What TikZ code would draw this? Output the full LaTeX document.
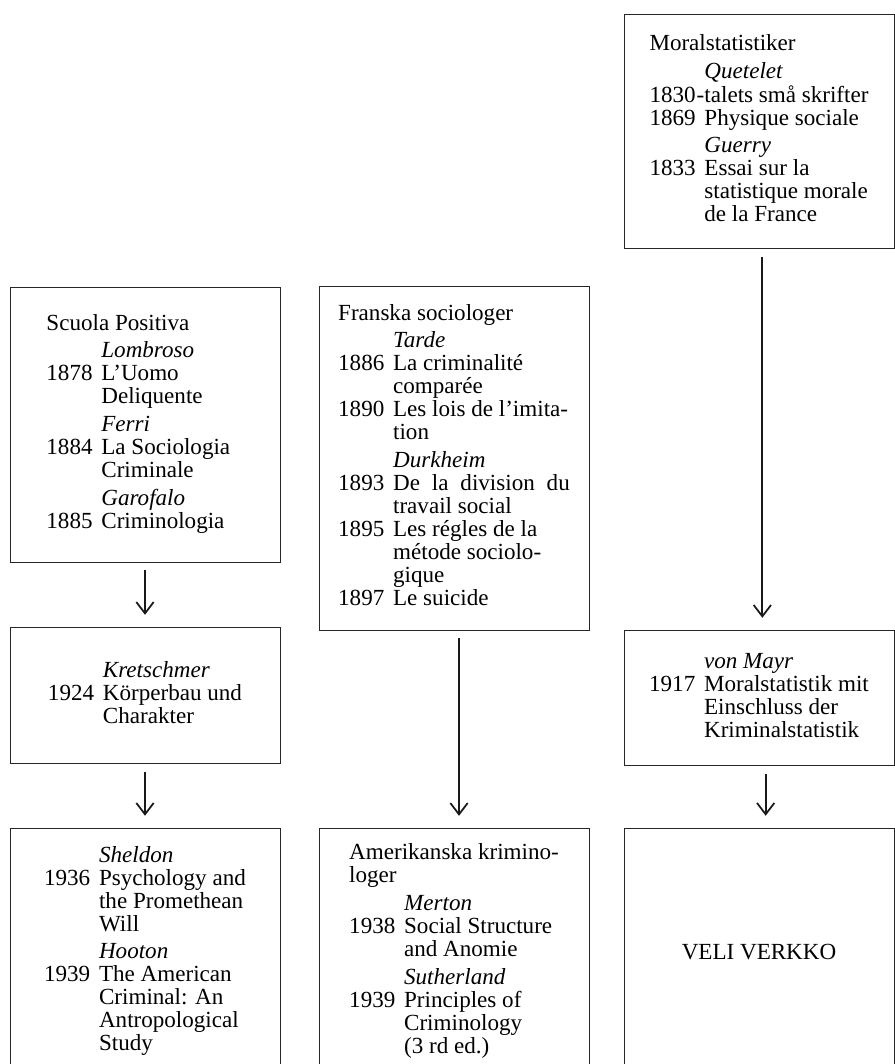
\documentclass[tikz,border=0pt]{standalone}
\usepackage{fontspec}
\setmainfont{Liberation Serif}
\usetikzlibrary{arrows.meta,positioning}

\newcommand{\auth}[1]{& \textit{#1}}
\newcommand{\head}[1]{\multicolumn{2}{@{}l@{}}{#1}}

\begin{document}
\begin{tikzpicture}[
  every node/.style={font=\fontsize{19.7}{19.6}\selectfont,inner sep=0pt,align=left},%
  bx/.style={draw=black!85,line width=.8pt,minimum width=8.1cm},%
  e/.style={-{Straight Barb[length=3.4mm,width=5.2mm]},line width=1.5pt,%
    draw=black!90,shorten <=.24cm,shorten >=.38cm},%
  ]
  \useasboundingbox (0,0) rectangle (26.85,-31.92);
  \node (moral) [bx,minimum height=7.02cm] at (22.77,-3.95) {%
    \begin{tabular}{@{}r@{\hspace{7.5pt}}l@{}}
      \head{Moralstatistiker}\\[4pt]
      \auth{Quetelet}\\
      1830 & \llap{-}talets\ små\ skrifter\\
      1869 & Physique sociale\\[4pt]
      \auth{Guerry}\\
      1833 & Essai sur la\\
      & statistique morale\\
      & de la France
    \end{tabular}};
  \node (scuola) [bx,minimum height=8.25cm] at (4.35,-12.735) {%
    \begin{tabular}{@{}r@{\hspace{7.5pt}}l@{}}
      \head{Scuola Positiva}\\[4pt]
      \auth{Lombroso}\\
      1878 & L'Uomo\\
      & Deliquente\\[4pt]
      \auth{Ferri}\\
      1884 & La Sociologia\\
      & Criminale\\[4pt]
      \auth{Garofalo}\\
      1885 & Criminologia
    \end{tabular}\hspace*{.4cm}};
  \node (franska) [bx,minimum height=10.32cm] at (13.62,-13.74) {%
    \begin{tabular}{@{}r@{\hspace{7.5pt}}l@{}}
      \head{Franska sociologer}\\[4pt]
      \auth{Tarde}\\
      1886 & La criminalité\\
      & comparée\\
      1890 & Les lois de l'imita-\\
      & tion\\[4pt]
      \auth{Durkheim}\\
      1893 & \makebox[5.3cm][s]{De la division du}\\
      & travail social\\
      1895 & Les régles de la\\
      & métode sociolo-\\
      & gique\\
      1897 & Le suicide
    \end{tabular}};
  \node (kretschmer) [bx,minimum height=4.08cm,below=1.95cm of scuola] {%
    \begin{tabular}{@{}r@{\hspace{7.5pt}}l@{}}
      \auth{Kretschmer}\\
      1924 & Körperbau und\\
      & Charakter
    \end{tabular}};
  \node (mayr) [bx,minimum height=4.05cm,below=11.44cm of moral] {%
    \begin{tabular}{@{}r@{\hspace{7.5pt}}l@{}}
      \auth{von Mayr}\\
      1917 & Moralstatistik mit\\
      & Einschluss der\\
      & Kriminalstatistik
    \end{tabular}};
  \node (sheldon) [bx,minimum height=7.38cm,below=1.92cm of kretschmer] {%
    \begin{tabular}{@{}r@{\hspace{7.5pt}}l@{}}
      \auth{Sheldon}\\
      1936 & Psychology and\\
      & the Promethean\\
      & Will\\[4pt]
      \auth{Hooton}\\
      1939 & The American\\
      & Criminal: An\\
      & Antropological\\
      & Study
    \end{tabular}};
  \node (amerik) [bx,minimum height=7.38cm,below=5.94cm of franska] {%
    \begin{tabular}{@{}r@{\hspace{7.5pt}}l@{}}
      \head{Amerikanska krimino-}\\
      \head{loger}\\[4pt]
      \auth{Merton}\\
      1938 & Social Structure\\
      & and Anomie\\[4pt]
      \auth{Sutherland}\\
      1939 & Principles of\\
      & Criminology\\
      & (3 rd ed.)
    \end{tabular}};
  \node (verkko) [bx,minimum height=7.38cm,below=1.86cm of mayr] {VELI VERKKO};

  \draw [e] (scuola) -- (kretschmer);
  \draw [e] (kretschmer) -- (sheldon);
  \draw [e] ([xshift=.15cm]franska.south) -- ([xshift=.15cm]amerik.north);
  \draw [e] ([xshift=.1cm]moral.south) -- ([xshift=.1cm]mayr.north);
  \draw [e] ([xshift=.2cm]mayr.south) -- ([xshift=.2cm]verkko.north);
\end{tikzpicture}
\end{document}
